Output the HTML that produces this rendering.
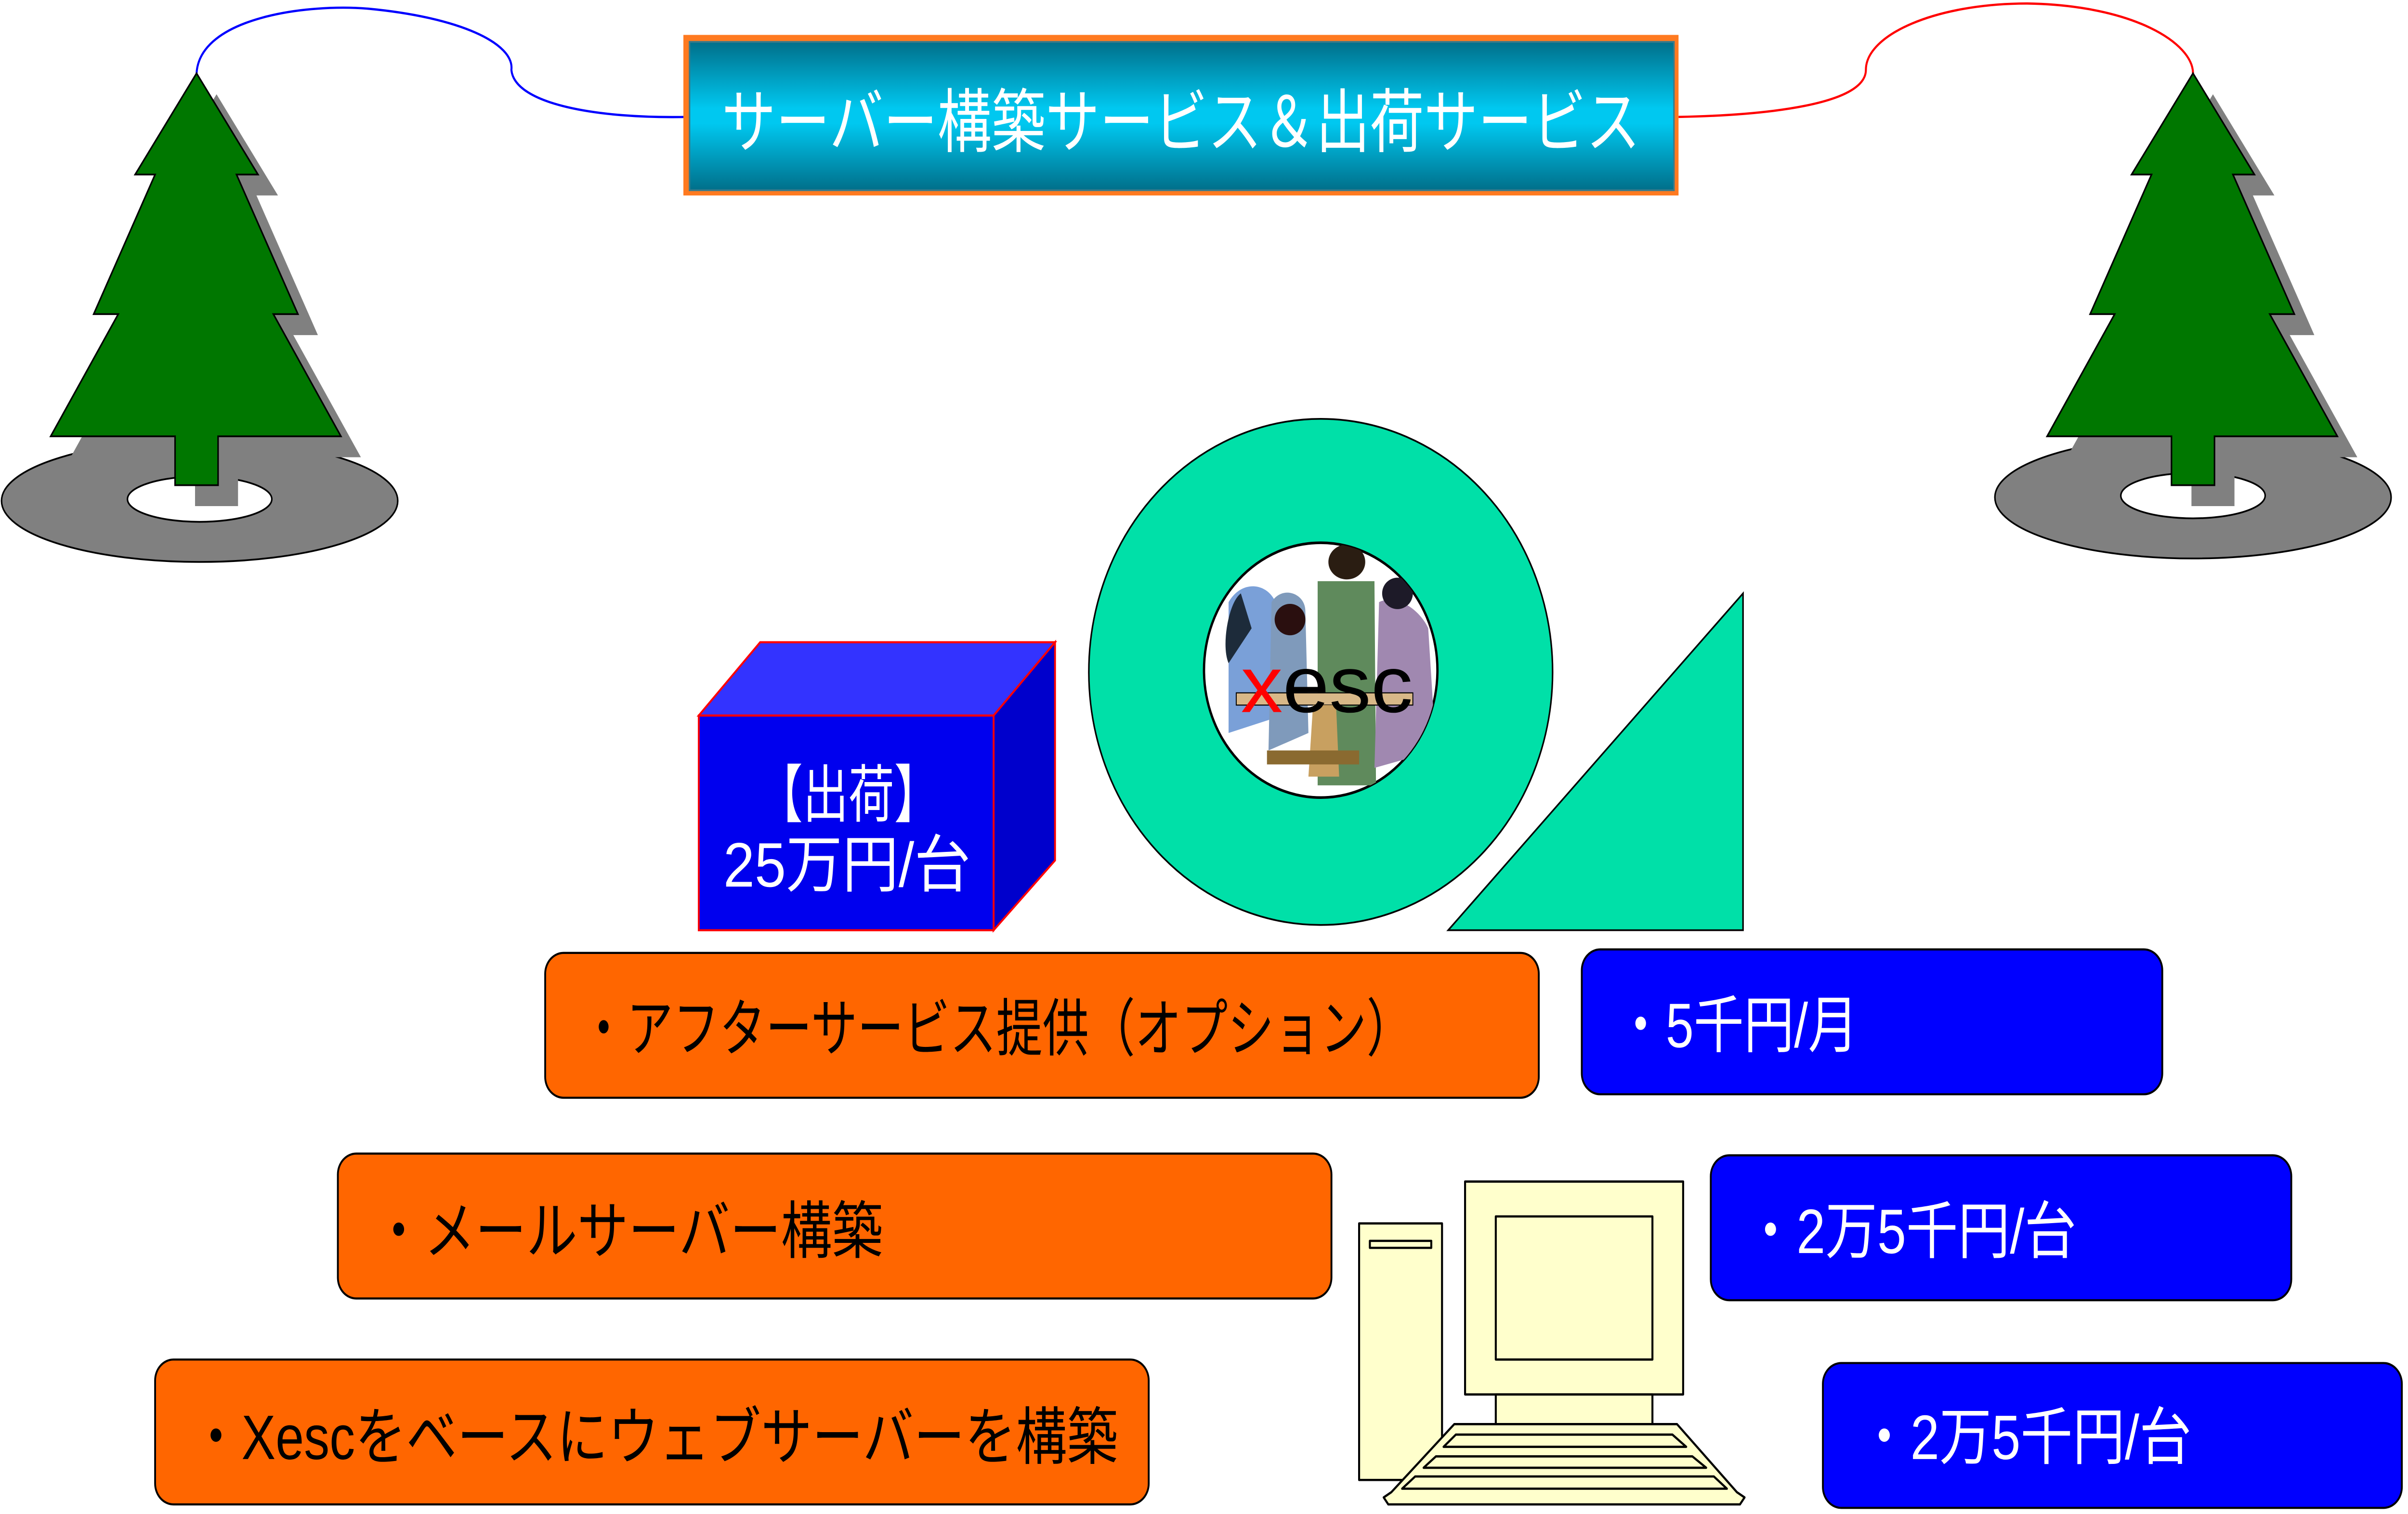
<!DOCTYPE html>
<html><head><meta charset="utf-8"><style>html,body{margin:0;padding:0;background:#fff;overflow:hidden;width:100vw;height:100vh}svg{display:block;width:100vw;height:100vh;position:absolute;left:0;top:0}</style></head>
<body>
<svg xmlns="http://www.w3.org/2000/svg" viewBox="0 0 1568 867.5" preserveAspectRatio="none" font-family="'Liberation Sans','Noto Sans CJK JP',sans-serif">
<defs>
<linearGradient id="tg" x1="0" y1="0" x2="0" y2="1">
<stop offset="0" stop-color="#006f8a"/><stop offset="0.45" stop-color="#00c8f0"/><stop offset="0.55" stop-color="#00c8f0"/><stop offset="1" stop-color="#006f8a"/>
</linearGradient>
<clipPath id="ic"><ellipse cx="860" cy="384" rx="76" ry="73"/></clipPath>
<g id="tree">
<polygon points="0,0 40,58 26,58 66,138 50,138 94,208 14,208 14,236 -14,236 -14,208 -95,208 -51,138 -67,138 -27,58 -40,58"/>
</g>
</defs>
<rect width="1568" height="867.5" fill="#fff"/>
<path d="M128,42 C130,10 200,2 240,5 C300,10 335,25 333,40 C335,60 390,68 447,67" fill="none" stroke="#0000ff" stroke-width="1.3"/>
<path d="M1093,67 C1150,66 1215,60 1215,40 C1215,20 1260,2 1320,2 C1390,3 1428,25 1428,42" fill="none" stroke="#ff0000" stroke-width="1.3"/>
<ellipse cx="130" cy="287" rx="129" ry="35" fill="#808080" stroke="#000" stroke-width="1"/>
<ellipse cx="130" cy="286" rx="47" ry="13" fill="#fff" stroke="#000" stroke-width="1"/>
<use href="#tree" x="141" y="54" fill="#808080"/>
<use href="#tree" x="128" y="42" fill="#007700" stroke="#000" stroke-width="1"/>
<ellipse cx="1428" cy="285" rx="129" ry="35" fill="#808080" stroke="#000" stroke-width="1"/>
<ellipse cx="1428" cy="284" rx="47" ry="13" fill="#fff" stroke="#000" stroke-width="1"/>
<use href="#tree" x="1441" y="54" fill="#808080"/>
<use href="#tree" x="1428" y="42" fill="#007700" stroke="#000" stroke-width="1"/>
<rect x="445" y="20" width="648" height="92" fill="#ff7a20"/>
<rect x="449" y="24" width="641" height="85" fill="url(#tg)" stroke="#3a7a8a" stroke-width="1"/>
<text x="470" y="84" font-size="40" fill="#fff" textLength="598" lengthAdjust="spacingAndGlyphs">サーバー構築サービス＆出荷サービス</text>
<ellipse cx="860" cy="385" rx="151" ry="145" fill="#00e0a8" stroke="#000" stroke-width="1"/>
<ellipse cx="860" cy="384" rx="76" ry="73" fill="#fff" stroke="#000" stroke-width="1.5"/>
<g clip-path="url(#ic)">
<path d="M800,345 C810,330 830,335 832,350 L835,410 L800,420 Z" fill="#7aa0d8"/>
<path d="M808,340 C800,345 795,370 800,380 L815,360 Z" fill="#1d2b3a"/>
<path d="M828,345 C835,335 850,340 850,350 L852,420 L826,430 Z" fill="#7f9abb"/>
<path d="M858,333 L895,333 L896,450 L858,450 Z" fill="#5f8a5c"/>
<ellipse cx="877" cy="322" rx="12" ry="10" fill="#2a1d12"/>
<path d="M898,345 C910,340 925,350 930,360 L935,430 L895,440 Z" fill="#a088b0"/>
<ellipse cx="910" cy="340" rx="10" ry="9" fill="#1d1a28"/>
<ellipse cx="840" cy="355" rx="10" ry="9" fill="#2a0f0f"/>
<rect x="805" y="397" width="115" height="7" fill="#d8b888" stroke="#000" stroke-width="0.6"/>
<path d="M855,404 L870,404 L872,445 L852,445 Z" fill="#c8a060"/>
<rect x="825" y="430" width="60" height="8" fill="#8a6a30"/>
</g>
<text x="808" y="408" font-size="46" fill="#000" textLength="112" lengthAdjust="spacingAndGlyphs"><tspan fill="#ff0000">x</tspan>esc</text>
<polygon points="943,533 1135,340 1135,533" fill="#00e0a8" stroke="#000" stroke-width="1"/>
<polygon points="455,410 495,368 687,368 647,410" fill="#3333ff" stroke="#ff0000" stroke-width="1.2"/>
<polygon points="647,410 687,368 687,493 647,533" fill="#0000cc" stroke="#ff0000" stroke-width="1.2"/>
<rect x="455" y="410" width="192" height="123" fill="#0000ee" stroke="#ff0000" stroke-width="1.2"/>
<text x="493" y="468" font-size="36" fill="#fff" textLength="119" lengthAdjust="spacingAndGlyphs">【出荷】</text>
<text x="471" y="508" font-size="36" fill="#fff" textLength="161" lengthAdjust="spacingAndGlyphs">25万円/台</text>
<g fill="#ff6600" stroke="#000" stroke-width="1.2">
<rect x="355" y="546" width="647" height="83" rx="12"/>
<rect x="220" y="661" width="647" height="83" rx="12"/>
<rect x="101" y="779" width="647" height="83" rx="12"/>
</g>
<g font-size="36" fill="#000">
<text x="378" y="602" textLength="542" lengthAdjust="spacingAndGlyphs">・アフターサービス提供（オプション）</text>
<text x="243" y="718" textLength="332" lengthAdjust="spacingAndGlyphs">・メールサーバー構築</text>
<text x="124" y="836" textLength="604" lengthAdjust="spacingAndGlyphs">・Xescをベースにウェブサーバーを構築</text>
</g>
<g fill="#0000ff" stroke="#000" stroke-width="1.2">
<rect x="1030" y="544" width="378" height="83" rx="12"/>
<rect x="1114" y="662" width="378" height="83" rx="12"/>
<rect x="1187" y="781" width="377" height="83" rx="12"/>
</g>
<g font-size="36" fill="#fff">
<text x="1052" y="600" textLength="158" lengthAdjust="spacingAndGlyphs">・5千円/月</text>
<text x="1136" y="718" textLength="216" lengthAdjust="spacingAndGlyphs">・2万5千円/台</text>
<text x="1210" y="836" textLength="217" lengthAdjust="spacingAndGlyphs">・2万5千円/台</text>
</g>
<g fill="#ffffcc" stroke="#000" stroke-width="1.3" stroke-linejoin="round">
<rect x="885" y="701" width="54" height="147"/>
<rect x="892" y="711" width="40" height="4"/>
<rect x="954" y="677" width="142" height="122"/>
<rect x="974" y="697" width="102" height="82"/>
<rect x="974" y="799" width="102" height="17"/>
<polygon points="947,816 1092,816 1131,855 1136,858 1133,862 904,862 901,858 906,855"/>
<polygon points="948,822 1089,822 1098,829 940,829"/>
<polygon points="935,834.5 1102,834.5 1111,841 927,841"/>
<polygon points="921.5,846 1116,846 1124.5,853 913,853"/>
</g>
</svg>
</body></html>
